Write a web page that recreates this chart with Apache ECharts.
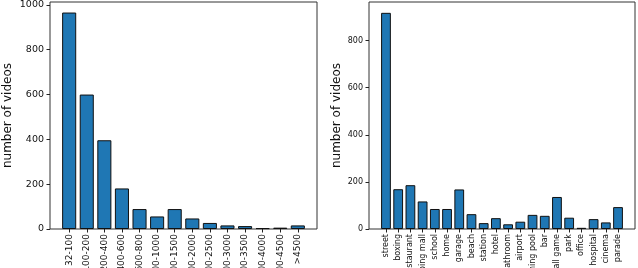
<!DOCTYPE html>
<html><head><meta charset="utf-8">
<script src="https://cdn.jsdelivr.net/npm/echarts@6/dist/echarts.min.js"></script>
<style>html,body{margin:0;padding:0;background:#fff}#c{width:638px;height:268px}</style>
</head><body><div id="c"></div>
<script>
const durCategories = ["32-100","100-200","200-400","400-600","600-800","800-1000","1000-1500","1500-2000","2000-2500","2500-3000","3000-3500","3500-4000","4000-4500",">4500"];
const durValues = [966, 600, 396, 181, 89, 56, 89, 47, 27, 16, 13, 4, 6, 16];
const sceneCategories = ["street","boxing","restaurant","shopping mall","school","home","garage","beach","station","hotel","bathroom","airport","swimming pool","bar","football game","park","office","hospital","cinema","parade"];
const sceneValues = [918, 169, 186, 117, 85, 85, 168, 63, 25, 46, 20, 31, 60, 56, 136, 48, 5, 42, 28, 93];
const yTitle = "number of videos";

const W = 638;
const f0 = {left: 50, right: 321, top: 2, bottom: 39};
const f1 = {left: 369, right: 3, top: 2, bottom: 39};
const font = "DejaVu Sans";

// matplotlib-like 5% x margins: inset the data grid inside the frame
function inset(f, n){
  const w = W - f.left - f.right;
  const units = (n - 0.2) * 1.1;            // bars span n-0.2 units plus 5% margins each side
  const band = w / units;
  const pad = (w - band * n) / 2;
  return {left: f.left + pad, right: f.right + pad, top: f.top, bottom: f.bottom};
}
const d0 = inset(f0, durCategories.length), d1 = inset(f1, sceneCategories.length);

const gridFrame = {show:true, borderColor:'#333', borderWidth:1, backgroundColor:'transparent', containLabel:false, outerBoundsMode:'none'};
const gridData = {show:false, containLabel:false, outerBoundsMode:'none'};

function catAxis(gi, cats, fs){
  return {type:'category', gridIndex:gi, data:cats, boundaryGap:true,
    axisLine:{show:false},
    axisTick:{show:true, alignWithLabel:true, interval:0, length:3.5, lineStyle:{color:'#222'}},
    axisLabel:{interval:0, rotate:90, fontSize:fs, fontFamily:font, color:'#111', margin:5}};
}
function visY(gi, max, fs, gap){
  return {type:'value', gridIndex:gi, min:0, max:max, interval:200, splitLine:{show:false},
    axisLine:{show:false},
    axisTick:{show:true, length:3.5, lineStyle:{color:'#222'}},
    axisLabel:{fontSize:fs, fontFamily:font, color:'#111', margin:6, showMaxLabel:false,
      formatter: v => String(Math.round(v))},
    name: yTitle, nameLocation:'middle', nameGap:gap, nameRotate:90,
    nameTextStyle:{fontSize:12, fontFamily:font, color:'#111'}};
}
function hidY(gi, max){ return {type:'value', gridIndex:gi, min:0, max:max, show:false, splitLine:{show:false}}; }
function hidX(gi){ return {type:'value', gridIndex:gi, min:0, max:1, show:false, splitLine:{show:false}}; }
function barSeries(ai, vals){
  return {type:'bar', xAxisIndex:ai, yAxisIndex:ai, barWidth:'80%', data: vals,
    itemStyle:{color:'#1f77b4', borderColor:'#111', borderWidth:1},
    animation:false, silent:true};
}

const chart = echarts.init(document.getElementById('c'), null, {renderer:'canvas'});
chart.setOption({
  animation:false,
  grid:[Object.assign({}, gridFrame, f0), Object.assign({}, gridData, d0),
        Object.assign({}, gridFrame, f1), Object.assign({}, gridData, d1)],
  xAxis:[hidX(0), catAxis(1, durCategories, 9), hidX(2), catAxis(3, sceneCategories, 8)],
  yAxis:[visY(0, 1013, 9.5, 36), hidY(1, 1013), visY(2, 964, 8, 26), hidY(3, 964)],
  series:[barSeries(1, durValues), barSeries(3, sceneValues)]
});
</script></body></html>
